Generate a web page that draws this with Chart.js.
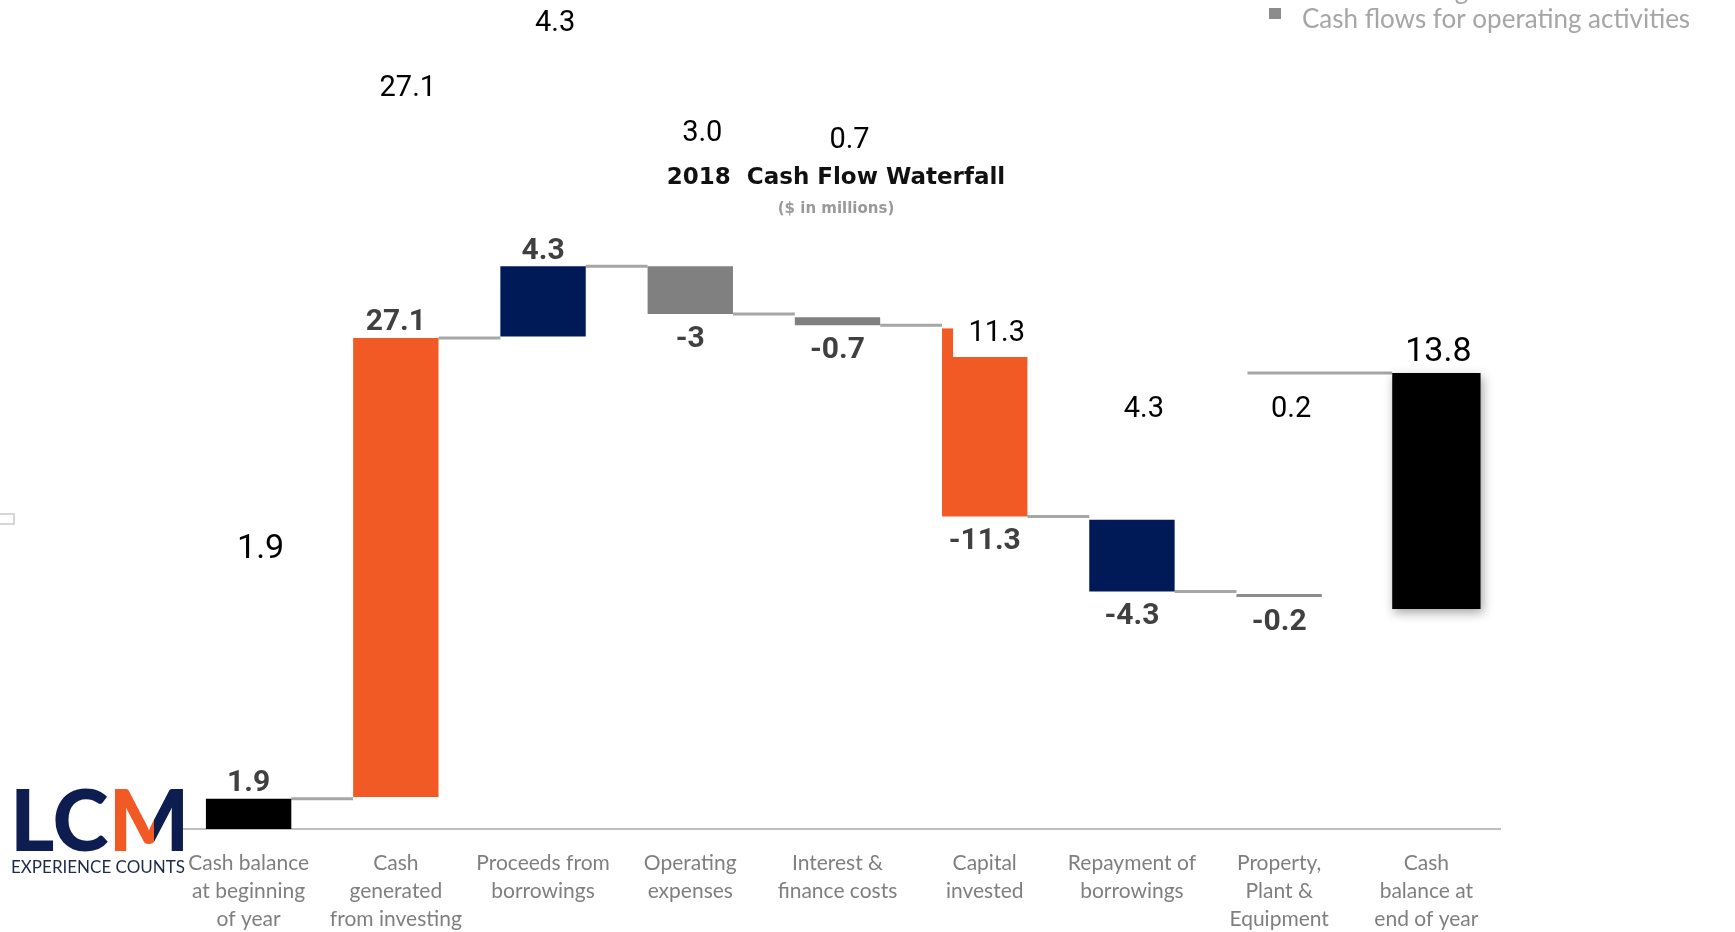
<!doctype html>
<html lang="en">
  <head>
    <meta charset="utf-8">
    <title>2018 Cash Flow Waterfall</title>
    <style>
      * {
        margin: 0;
        padding: 0;
      }
      body {
        background: #fff;
      }
      .chartBox {
        width: 1735px;
        height: 932px;
        position: relative;
      }
    </style>
  </head>
  <body>
    <div class="chartBox">
      <canvas id="myChart"></canvas>
    </div>
    <script src="https://cdn.jsdelivr.net/npm/chart.js"></script>
    <script>
    // categories (x axis)
    const categories = [
      ['Cash balance', 'at beginning', 'of year'],
      ['Cash', 'generated', 'from investing'],
      ['Proceeds from', 'borrowings'],
      ['Operating', 'expenses'],
      ['Interest &', 'finance costs'],
      ['Capital', 'invested'],
      ['Repayment of', 'borrowings'],
      ['Property,', 'Plant &', 'Equipment'],
      ['Cash', 'balance at', 'end of year']
    ];

    // change per step, $ in millions
    const steps = [1.9, 27.1, 4.3, -3, -0.7, -11.3, -4.3, -0.2, 13.8];

    // bar extents as drawn in the picture (the picture is not to scale)
    const barLow  = [0,   2.0,  30.9, 32.3, 31.6, 19.6, 14.9, 14.55, 13.8];
    const barHigh = [1.9, 30.8, 35.3, 35.3, 32.1, 29.6, 19.4, 14.74, 28.6];
    const capitalNotchTop = 31.4;

    // levels of the loose black value labels
    const labelLevels = [17.75, 46.6, 50.7, 43.8, 43.35, 31.25, 26.5, 26.5, 30.05];

    const legendItems = ['Cash financing', 'Cash flows for operating activities'];

    const colours = ['#000000', '#f15a24', '#001a57', '#808080', '#808080', '#f15a24', '#001a57', '#8c8c8c', '#000000'];
    const last = steps.length - 1;
    const closingShift = 10; // closing bar sits a little right of its slot

    // setup
    const data = {
      labels: categories,
      datasets: [{
        label: 'Flows',
        data: barLow.map((lo, i) => i < last ? [lo, barHigh[i]] : null),
        backgroundColor: colours,
        borderSkipped: false,
        grouped: false,
        barPercentage: 0.58,
        categoryPercentage: 1
      },
      {
        label: 'Closing',
        data: barLow.map((lo, i) => i === last ? [lo, barHigh[i]] : null),
        backgroundColor: colours,
        borderSkipped: false,
        grouped: false,
        barPercentage: 0.6,
        categoryPercentage: 1
      }]
    };

    const barAt = (chart, i) => chart.getDatasetMeta(i < last ? 0 : 1).data[i];

    // waterfall plugin block
    const waterfall = {
      id: 'waterfall',
      beforeDatasetsDraw(chart) {
        const { ctx, scales: { y } } = chart;
        ctx.save();
        ctx.strokeStyle = '#a6a6a6';
        ctx.lineWidth = 3;
        for (let i = 0; i < last - 1; i++) {
          const a = barAt(chart, i), b = barAt(chart, i + 1);
          const level = steps[i] >= 0 ? barHigh[i] : barLow[i];
          const py = y.getPixelForValue(level);
          ctx.beginPath();
          ctx.moveTo(a.x + a.width / 2, py);
          ctx.lineTo(b.x - b.width / 2, py);
          ctx.stroke();
        }
        // line running into the closing bar
        const p = barAt(chart, last - 1), e = barAt(chart, last);
        const py = y.getPixelForValue(barHigh[last]);
        ctx.beginPath();
        ctx.moveTo(p.x - p.width / 2 + 11, py);
        ctx.lineTo(e.x - e.width / 2 + closingShift, py);
        ctx.stroke();
        ctx.restore();
      },
      beforeDatasetDraw(chart, args) {
        if (args.index === 1) {
          const ctx = chart.ctx;
          ctx.save();
          ctx.translate(closingShift, 0);
          ctx.shadowColor = 'rgba(0, 0, 0, 0.35)';
          ctx.shadowBlur = 10;
          ctx.shadowOffsetX = 2;
          ctx.shadowOffsetY = 4;
        }
      },
      afterDatasetDraw(chart, args) {
        if (args.index === 1) chart.ctx.restore();
      },
      afterDatasetsDraw(chart) {
        const { ctx, scales: { y } } = chart;
        ctx.save();

        // notch on the capital invested bar
        const c = barAt(chart, 5);
        const top = y.getPixelForValue(capitalNotchTop);
        ctx.fillStyle = colours[5];
        ctx.fillRect(c.x - c.width / 2, top, 11, y.getPixelForValue(barHigh[5]) - top);

        // grey labels on the bars
        ctx.textAlign = 'center';
        ctx.textBaseline = 'middle';
        ctx.fillStyle = '#404040';
        ctx.font = 'bold 30px Roboto';
        for (let i = 0; i < last; i++) {
          const b = barAt(chart, i);
          const py = steps[i] >= 0 ? y.getPixelForValue(barHigh[i]) - 15 : y.getPixelForValue(barLow[i]) + 25;
          ctx.fillText(String(steps[i]), b.x, py);
        }

        // loose black labels
        ctx.fillStyle = '#000000';
        steps.forEach((v, i) => {
          const b = barAt(chart, i);
          ctx.font = (i === 0 || i === last) ? '34px Roboto' : '29px Roboto';
          ctx.fillText(Math.abs(v).toFixed(1), b.x + 12, y.getPixelForValue(labelLevels[i]) + 3);
        });
        ctx.restore();
      },
      afterDraw(chart) {
        const { ctx } = chart;
        ctx.save();

        // title
        ctx.textAlign = 'center';
        ctx.textBaseline = 'middle';
        ctx.fillStyle = '#111111';
        ctx.font = 'bold 23px "DejaVu Sans"';
        ctx.fillText('2018  Cash Flow Waterfall', 836, 178);
        ctx.fillStyle = '#999999';
        ctx.font = 'bold 15px "DejaVu Sans"';
        ctx.fillText('($ in millions)', 836, 209);

        // legend, top right
        ctx.textAlign = 'left';
        ctx.font = '26px Lato';
        legendItems.forEach((t, i) => {
          const cy = -9 + i * 29;
          ctx.fillStyle = '#8c8c8c';
          ctx.fillRect(1269, cy - 12, 12, 11);
          ctx.fillStyle = '#a6a6a6';
          ctx.fillText(t, 1302, cy);
        });

        // logo
        ctx.textBaseline = 'alphabetic';
        ctx.font = '900 85px Lato';
        ctx.fillStyle = '#0e1d4f';
        ctx.fillText('LC', 10, 851);
        const mx = 10 + ctx.measureText('LC').width;
        const mw = ctx.measureText('M').width;
        const g = ctx.createLinearGradient(mx, 0, mx + mw, 0);
        g.addColorStop(0, '#f15a24');
        g.addColorStop(0.56, '#f15a24');
        g.addColorStop(0.56, '#0e1d4f');
        g.addColorStop(1, '#0e1d4f');
        ctx.fillStyle = g;
        ctx.fillText('M', mx, 851);
        ctx.textBaseline = 'middle';
        ctx.font = '17px Lato';
        ctx.fillStyle = '#1f2a4a';
        ctx.fillText('EXPERIENCE COUNTS', 11, 868);

        // small box at the left edge
        ctx.strokeStyle = '#d6d6d6';
        ctx.lineWidth = 2;
        ctx.strokeRect(-2, 514, 16, 10);
        ctx.restore();
      }
    };

    // config
    const config = {
      type: 'bar',
      data,
      options: {
        responsive: true,
        maintainAspectRatio: false,
        animation: false,
        layout: {
          padding: { left: 175, right: 235, top: 0, bottom: 0 }
        },
        scales: {
          x: {
            grid: { display: false, drawTicks: false },
            border: { display: true, color: '#bfbfbf', width: 2 },
            ticks: {
              color: '#7f7f7f',
              font: { family: 'Lato', size: 21, lineHeight: 1.34 },
              padding: 20,
              autoSkip: false,
              maxRotation: 0
            },
            afterFit(scale) {
              scale.height = 103;
            }
          },
          y: {
            display: false,
            min: 0,
            max: 52
          }
        },
        plugins: {
          legend: { display: false },
          tooltip: { enabled: false }
        }
      },
      plugins: [waterfall]
    };

    // render init block
    const myChart = new Chart(
      document.getElementById('myChart'),
      config
    );
    </script>
  </body>
</html>
